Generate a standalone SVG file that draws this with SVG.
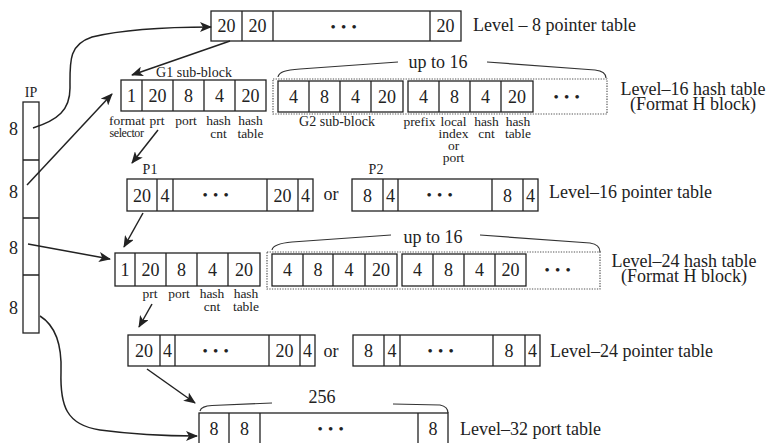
<svg xmlns="http://www.w3.org/2000/svg" width="768" height="443" viewBox="0 0 768 443">
<defs>
<style>
.box{fill:none;stroke:#222;stroke-width:1.3}
.dl{fill:none;stroke:#555;stroke-width:1.2;stroke-dasharray:1.3 1.3}
.br{fill:none;stroke:#333;stroke-width:1.2}
text{font-family:'Liberation Serif','DejaVu Serif','Times New Roman',serif;fill:#222}
.n{font-size:18px;text-anchor:middle}
.d{font-size:15px;text-anchor:middle;letter-spacing:0.75px}
.l{font-size:18px}
.lc{font-size:18px;text-anchor:middle}
.s{font-size:14px;text-anchor:middle}
.t{font-size:13.5px;text-anchor:middle}
.conn{fill:none;stroke:#222;stroke-width:1.5}
</style>
<marker id="ah" viewBox="0 0 12 10" refX="11" refY="5" markerWidth="12" markerHeight="10" markerUnits="userSpaceOnUse" orient="auto">
<path d="M0,0 L12,5 L0,10 L3,5 z" fill="#222"/>
</marker>
</defs>
<rect width="768" height="443" fill="#fff"/>

<g id="ip">
<rect class="box" x="23" y="102" width="16" height="231"/>
<path class="box" d="M23,160H39M23,218H39M23,275H39"/>
<text class="s" x="31" y="97">IP</text>
<text class="n" x="13.5" y="135">8</text>
<text class="n" x="13.5" y="198">8</text>
<text class="n" x="13.5" y="254">8</text>
<text class="n" x="13.5" y="314">8</text>
</g>

<g id="level8">
<rect class="box" x="211" y="11" width="250" height="30"/>
<path class="box" d="M242,11V41M273,11V41M430,11V41"/>
<text class="n" x="226.5" y="32">20</text>
<text class="n" x="257.5" y="32">20</text>
<text class="d" x="344" y="32">• • •</text>
<text class="n" x="445.5" y="32">20</text>
<text class="l" x="473" y="31">Level – 8 pointer table</text>
</g>

<g id="l16-g1">
<text class="s" x="194" y="77">G1 sub-block</text>
<rect class="box" x="121" y="80" width="145" height="31"/>
<path class="box" d="M142,80V111M173,80V111M204,80V111M235,80V111"/>
<text class="n" x="131.5" y="102">1</text>
<text class="n" x="157.5" y="102">20</text>
<text class="n" x="188.5" y="102">8</text>
<text class="n" x="219.5" y="102">4</text>
<text class="n" x="250.5" y="102">20</text>
<text class="t" x="127" y="125">format<tspan x="126.5" dy="12" style="font-size:12px;letter-spacing:-0.4px">selector</tspan></text>
<text class="t" x="157" y="125">prt</text>
<text class="t" x="186" y="125">port</text>
<text class="t" x="218.5" y="125">hash<tspan x="218.5" dy="13">cnt</tspan></text>
<text class="t" x="250.5" y="125">hash<tspan x="250.5" dy="13">table</tspan></text>
</g>

<g id="l16-hash">
<path class="br" d="M278,77 C279,72 285,70 300,69 L398,62 M487,62 L595,70 C603,71 606,74 606,78"/>
<text class="lc" x="438" y="68">up to 16</text>
<rect class="dl" x="273" y="79" width="334" height="35"/>
<rect class="box" x="278" y="81" width="125" height="31"/>
<path class="box" d="M309,81V112M340,81V112M371,81V112"/>
<text class="n" x="293.5" y="103">4</text>
<text class="n" x="324.5" y="103">8</text>
<text class="n" x="355.5" y="103">4</text>
<text class="n" x="387" y="103">20</text>
<rect class="box" x="408" y="81" width="125" height="31"/>
<path class="box" d="M439,81V112M470,81V112M501,81V112"/>
<text class="n" x="423.5" y="103">4</text>
<text class="n" x="454.5" y="103">8</text>
<text class="n" x="485.5" y="103">4</text>
<text class="n" x="517" y="103">20</text>
<text class="d" x="567" y="102">• • •</text>
<text class="s" x="337" y="126">G2 sub-block</text>
<text class="t" x="419.5" y="126">prefix</text>
<text class="t" x="453.5" y="126">local<tspan x="453.5" dy="12">index</tspan><tspan x="453.5" dy="12">or</tspan><tspan x="453.5" dy="12">port</tspan></text>
<text class="t" x="486.5" y="126">hash<tspan x="486.5" dy="12">cnt</tspan></text>
<text class="t" x="518" y="126">hash<tspan x="518" dy="12">table</tspan></text>
<text class="lc" x="693" y="95">Level–16 hash table<tspan x="693" dy="15">(Format H block)</tspan></text>
</g>

<g id="l16-ptr">
<text class="s" x="150" y="174">P1</text>
<rect class="box" x="127" y="179" width="186" height="32"/>
<path class="box" d="M157,179V211M173,179V211M267,179V211M298,179V211"/>
<text class="n" x="142" y="202">20</text>
<text class="n" x="165" y="202">4</text>
<text class="d" x="216" y="200">• • •</text>
<text class="n" x="282.5" y="202">20</text>
<text class="n" x="305.5" y="202">4</text>
<text class="lc" x="331" y="200">or</text>
<text class="s" x="376" y="174">P2</text>
<rect class="box" x="352" y="179" width="186" height="32"/>
<path class="box" d="M383,179V211M398,179V211M492,179V211M523,179V211"/>
<text class="n" x="367.5" y="202">8</text>
<text class="n" x="390.5" y="202">4</text>
<text class="d" x="440" y="200">• • •</text>
<text class="n" x="507.5" y="202">8</text>
<text class="n" x="530.5" y="202">4</text>
<text class="l" x="549" y="198">Level–16 pointer table</text>
</g>

<g id="l24-g1">
<rect class="box" x="115" y="253" width="145" height="33"/>
<path class="box" d="M135,253V286M166,253V286M197,253V286M228,253V286"/>
<text class="n" x="125" y="276">1</text>
<text class="n" x="150.5" y="276">20</text>
<text class="n" x="181.5" y="276">8</text>
<text class="n" x="212.5" y="276">4</text>
<text class="n" x="244" y="276">20</text>
<text class="t" x="150" y="298">prt</text>
<text class="t" x="179" y="298">port</text>
<text class="t" x="212" y="298">hash<tspan x="212" dy="13">cnt</tspan></text>
<text class="t" x="246" y="298">hash<tspan x="246" dy="13">table</tspan></text>
</g>

<g id="l24-hash">
<path class="br" d="M272,250 C273,245 280,243 292,242 L391,235 M480,235 L590,243 C597,244 600,247 600,252"/>
<text class="lc" x="433" y="243">up to 16</text>
<rect class="dl" x="267" y="252" width="333" height="37"/>
<rect class="box" x="272" y="254" width="125" height="32"/>
<path class="box" d="M303,254V286M333,254V286M365,254V286"/>
<text class="n" x="287.5" y="276">4</text>
<text class="n" x="318" y="276">8</text>
<text class="n" x="349" y="276">4</text>
<text class="n" x="381" y="276">20</text>
<rect class="box" x="402" y="254" width="124" height="32"/>
<path class="box" d="M433,254V286M464,254V286M495,254V286"/>
<text class="n" x="417.5" y="276">4</text>
<text class="n" x="448.5" y="276">8</text>
<text class="n" x="479.5" y="276">4</text>
<text class="n" x="510.5" y="276">20</text>
<text class="d" x="558" y="275">• • •</text>
<text class="lc" x="684" y="267">Level–24 hash table<tspan x="684" dy="15">(Format H block)</tspan></text>
</g>

<g id="l24-ptr">
<rect class="box" x="128" y="335" width="187" height="31"/>
<path class="box" d="M160,335V366M175,335V366M269,335V366M300,335V366"/>
<text class="n" x="144" y="357">20</text>
<text class="n" x="167.5" y="357">4</text>
<text class="d" x="216" y="356">• • •</text>
<text class="n" x="284.5" y="357">20</text>
<text class="n" x="307.5" y="357">4</text>
<text class="lc" x="331" y="357">or</text>
<rect class="box" x="353" y="335" width="187" height="31"/>
<path class="box" d="M384,335V366M400,335V366M493,335V366M525,335V366"/>
<text class="n" x="368.5" y="357">8</text>
<text class="n" x="392" y="357">4</text>
<text class="d" x="441" y="356">• • •</text>
<text class="n" x="509" y="357">8</text>
<text class="n" x="532.5" y="357">4</text>
<text class="l" x="550" y="357">Level–24 pointer table</text>
</g>

<g id="l32-port">
<path class="br" d="M200,411 C201,407 205,406 212,405.5 L272,403 M393,404 L440,405 C445,406 448,409 448,413"/>
<text class="lc" x="322" y="403">256</text>
<rect class="box" x="199" y="413" width="249" height="34"/>
<path class="box" d="M229,413V447M260,413V447M418,413V447"/>
<text class="n" x="214" y="435">8</text>
<text class="n" x="244.5" y="435">8</text>
<text class="d" x="331" y="434">• • •</text>
<text class="n" x="433" y="435">8</text>
<text class="l" x="460" y="435">Level–32 port table</text>
</g>

<g id="connectors">
<path class="conn" marker-end="url(#ah)" d="M33,128 C58,120 70,110 70,88 C70,62 68,45 92,37 C125,29 170,27 211,27"/>
<path class="conn" marker-end="url(#ah)" d="M27,185 L112,94"/>
<path class="conn" marker-end="url(#ah)" d="M28,244 L110,259"/>
<path class="conn" marker-end="url(#ah)" d="M40,316 C56,326 62,345 61,372 C60,405 66,425 100,430 C130,434 165,436 197,436"/>
<path class="conn" marker-end="url(#ah)" d="M230,41 L132,75"/>
<path class="conn" marker-end="url(#ah)" d="M158,130 L132,163"/>
<path class="conn" marker-end="url(#ah)" d="M143,213 L124,247"/>
<path class="conn" marker-end="url(#ah)" d="M152,304 L139,327"/>
<path class="conn" marker-end="url(#ah)" d="M147,369 L195,403"/>
</g>
</svg>
